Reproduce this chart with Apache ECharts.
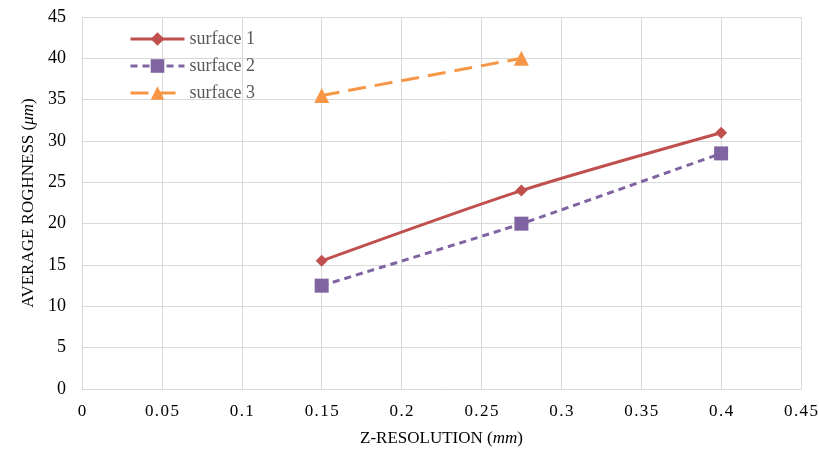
<!DOCTYPE html>
<html>
<head>
<meta charset="utf-8">
<script src="https://cdn.jsdelivr.net/npm/echarts@6/dist/echarts.min.js"></script>
<style>
  html, body {margin: 0; padding: 0; background: #fff;}
  #chart {width: 819px; height: 456px;}
</style>
</head>
<body>
<div id="chart"></div>
<script>
var names = ['surface 1', 'surface 2', 'surface 3'];
var xs = [0.15, 0.275, 0.4];
var s1 = [15.5, 24, 31];
var s2 = [12.5, 20, 28.5];
var s3 = [35.5, 40];

function pairs(vals) {
    return vals.map(function (v, i) { return [xs[i], v]; });
}

var font = 'Liberation Serif';
var chart = echarts.init(document.getElementById('chart'));
var opt = {
    animation: false,
    grid: {left: 82, right: 18, top: 17, bottom: 67, outerBoundsMode: 'none', containLabel: false},
    legend: {
        orient: 'vertical', left: 124, top: 25, itemGap: 9,
        itemWidth: 54, itemHeight: 17,
        lineStyle: {width: 3},
        textStyle: {fontFamily: font, fontSize: 18, color: '#595959'},
        data: names
    },
    xAxis: {
        type: 'value', min: 0, max: 0.45, interval: 0.05,
        name: 'Z-RESOLUTION ({i|mm})', nameLocation: 'middle', nameGap: 41,
        nameTextStyle: {fontFamily: font, fontSize: 17, color: '#000',
            rich: {i: {fontFamily: font, fontStyle: 'italic', fontSize: 17}}},
        axisLine: {lineStyle: {color: '#d9d9d9'}},
        axisTick: {show: false},
        splitLine: {lineStyle: {color: '#d9d9d9'}},
        axisLabel: {fontFamily: font, fontSize: 17, color: '#000', margin: 14,
            formatter: function (v) { return String(+v.toFixed(2)).split('').join('\u200a'); }}
    },
    yAxis: {
        type: 'value', min: 0, max: 45, interval: 5,
        name: 'AVERAGE ROGHNESS ({i|\u03bcm})', nameLocation: 'middle', nameGap: 45,
        nameTextStyle: {fontFamily: font, fontSize: 17, color: '#000',
            rich: {i: {fontFamily: font, fontStyle: 'italic', fontSize: 17}}},
        axisLine: {show: true, lineStyle: {color: '#d9d9d9'}},
        axisTick: {show: false},
        splitLine: {lineStyle: {color: '#d9d9d9'}},
        axisLabel: {fontFamily: font, fontSize: 18, color: '#000', margin: 16}
    },
    series: [{
        name: names[0], type: 'line', data: pairs(s1), smooth: 0.25,
        symbol: 'diamond', symbolSize: 12,
        lineStyle: {color: '#c0504d', width: 3},
        itemStyle: {color: '#c0504d'}
    }, {
        name: names[1], type: 'line', data: pairs(s2), smooth: 0.15,
        symbol: 'rect', symbolSize: 14,
        lineStyle: {color: '#8064a2', width: 3, type: [7, 5]},
        itemStyle: {color: '#8064a2'}
    }, {
        name: names[2], type: 'line', data: pairs(s3),
        symbol: 'triangle', symbolSize: 15,
        lineStyle: {color: '#f79646', width: 3, type: [18, 9]},
        itemStyle: {color: '#f79646'}
    }]
};
chart.setOption(opt);
</script>
</body>
</html>
